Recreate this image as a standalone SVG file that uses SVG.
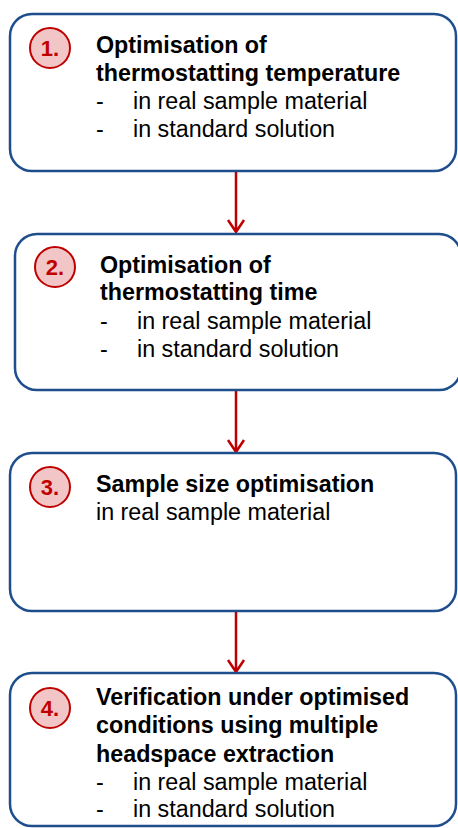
<svg xmlns="http://www.w3.org/2000/svg" width="458" height="828" viewBox="0 0 458 828">
<style>
.box{fill:#fff;stroke:#1f4e8c;stroke-width:2.5}
.badge{fill:#f2c6c6;stroke:#c00000;stroke-width:2}
.num{font-family:"Liberation Sans",Arial,sans-serif;font-weight:bold;font-size:22px;fill:#c00000;text-anchor:middle}
.t{font-family:"Liberation Sans",Arial,sans-serif;font-size:23.3px;fill:#000}
.b{font-weight:bold}
.conn{stroke:#c00000;stroke-width:2.5;fill:none}
</style>
<g id="connectors">
<path class="conn" d="M236 172V232M228 220L236 232L244 220"/>
<path class="conn" d="M236 391V452M228 440L236 452L244 440"/>
<path class="conn" d="M236 612V672M228 660L236 672L244 660"/>
</g>
<g id="node1">
<rect class="box" x="10" y="14" width="446" height="157" rx="22"/>
<circle class="badge" cx="50" cy="48" r="20"/>
<text class="num" x="50" y="56">1.</text>
<text class="t b" x="96" y="53">Optimisation of</text>
<text class="t b" x="96" y="81">thermostatting temperature</text>
<text class="t" x="96" y="109">-</text><text class="t" x="133" y="109">in real sample material</text>
<text class="t" x="96" y="137">-</text><text class="t" x="133" y="137">in standard solution</text>
</g>
<g id="node2">
<rect class="box" x="15" y="234" width="446" height="156" rx="22"/>
<circle class="badge" cx="55" cy="267" r="20"/>
<text class="num" x="55" y="275">2.</text>
<text class="t b" x="100" y="273">Optimisation of</text>
<text class="t b" x="100" y="300">thermostatting time</text>
<text class="t" x="100" y="329">-</text><text class="t" x="137" y="329">in real sample material</text>
<text class="t" x="100" y="357">-</text><text class="t" x="137" y="357">in standard solution</text>
</g>
<g id="node3">
<rect class="box" x="10" y="453" width="446" height="158" rx="22"/>
<circle class="badge" cx="50" cy="487" r="20"/>
<text class="num" x="50" y="495">3.</text>
<text class="t b" x="96" y="492">Sample size optimisation</text>
<text class="t" x="96" y="520">in real sample material</text>
</g>
<g id="node4">
<rect class="box" x="10" y="673" width="446" height="153" rx="22"/>
<circle class="badge" cx="50" cy="708" r="20"/>
<text class="num" x="50" y="716">4.</text>
<text class="t b" x="96" y="705">Verification under optimised</text>
<text class="t b" x="96" y="733">conditions using multiple</text>
<text class="t b" x="96" y="762">headspace extraction</text>
<text class="t" x="96" y="790">-</text><text class="t" x="133" y="790">in real sample material</text>
<text class="t" x="96" y="817">-</text><text class="t" x="133" y="817">in standard solution</text>
</g>
</svg>
